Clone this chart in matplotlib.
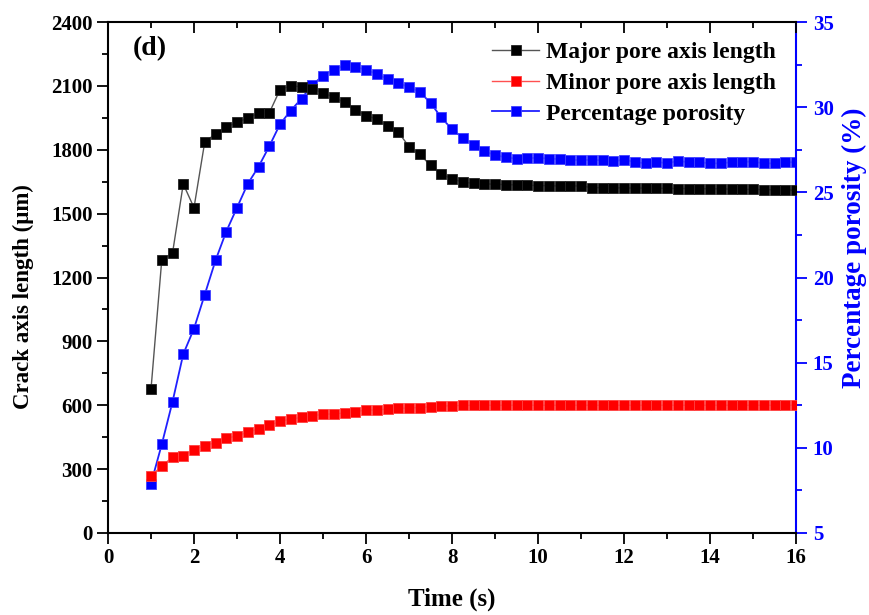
import numpy as np
import matplotlib
matplotlib.use("Agg")
import matplotlib.pyplot as plt
from matplotlib.ticker import MultipleLocator

plt.rcParams['font.family'] = ['Liberation Serif', 'DejaVu Serif']
plt.rcParams['font.weight'] = 'bold'

# time samples, every 0.25 s from 1 s to 16 s
time_s = np.arange(1.0, 16.001, 0.25)

major_axis = [675, 1282, 1314, 1639, 1528, 1837, 1874, 1905, 1930, 1948,
              1973, 1973, 2082, 2100, 2096, 2086, 2067, 2047, 2022, 1987,
              1960, 1945, 1910, 1883, 1815, 1778, 1727, 1686, 1663, 1648,
              1642, 1640, 1638, 1636, 1635, 1633, 1632, 1631, 1630, 1630,
              1630, 1622, 1622, 1621, 1621, 1620, 1620, 1619, 1619, 1618,
              1618, 1617, 1617, 1616, 1615, 1614, 1614, 1613, 1612, 1611,
              1610]

minor_axis = [268, 315, 356, 362, 391, 410, 425, 445, 456, 474,
              488, 506, 524, 535, 543, 551, 557, 560, 563, 570,
              577, 578, 582, 585, 588, 589, 593, 596, 598, 599,
              600, 600, 600, 600, 600, 600, 600, 600, 600, 600,
              600, 600, 600, 600, 600, 600, 600, 600, 600, 600,
              600, 600, 600, 600, 600, 600, 600, 600, 600, 600,
              600]

porosity = [7.9, 10.2, 12.7, 15.5, 17.0, 19.0, 21.0, 22.7, 24.1, 25.5,
            26.5, 27.7, 29.0, 29.8, 30.5, 31.3, 31.85, 32.2, 32.45, 32.35,
            32.2, 31.95, 31.65, 31.4, 31.2, 30.9, 30.25, 29.4, 28.7, 28.2,
            27.8, 27.4, 27.2, 27.05, 26.98, 27.0, 27.03, 26.98, 26.95, 26.9,
            26.9, 26.9, 26.88, 26.82, 26.92, 26.78, 26.7, 26.8, 26.7, 26.84,
            26.77, 26.77, 26.7, 26.7, 26.77, 26.8, 26.8, 26.7, 26.7, 26.77,
            26.77]

labels = ['Major pore axis length', 'Minor pore axis length', 'Percentage porosity']

fig = plt.figure(figsize=(8.69, 6.15), dpi=100)
ax = fig.add_axes([108 / 869, 82 / 615, 688 / 869, 511 / 615])
ax2 = ax.twinx()

ms = 7.4
l1, = ax.plot(time_s, major_axis, color='#555555', lw=1.0, marker='s', ms=ms,
              mfc='black', mec='#222222', mew=0.6, label=labels[0])
l2, = ax.plot(time_s, minor_axis, color='#ff5050', lw=1.0, marker='s', ms=ms,
              mfc='#ff0000', mec='#ff4040', mew=0.6, label=labels[1])
l3, = ax2.plot(time_s, porosity, color='#2020ff', lw=1.3, marker='s', ms=ms,
               mfc='#0000ff', mec='#4040ff', mew=0.6, label=labels[2])

ax.set_xlim(0, 16)
ax.set_ylim(0, 2400)
ax2.set_ylim(5, 35)

ax.xaxis.set_major_locator(MultipleLocator(2))
ax.xaxis.set_minor_locator(MultipleLocator(1))
ax.yaxis.set_major_locator(MultipleLocator(300))
ax.yaxis.set_minor_locator(MultipleLocator(150))
ax2.yaxis.set_major_locator(MultipleLocator(5))
ax2.yaxis.set_minor_locator(MultipleLocator(2.5))

tick_fs = 15
ax.tick_params(axis='both', which='major', direction='out', length=8, width=1.3,
               labelsize=tick_fs, pad=3)
ax.tick_params(axis='both', which='minor', direction='out', length=4.5, width=1.3)
ax.tick_params(axis='x', which='both', top=True)
ax.tick_params(axis='y', which='both', right=False)
ax2.tick_params(axis='y', which='major', direction='out', length=8, width=1.3,
                labelsize=tick_fs, colors='#0000ff', pad=4)
ax2.tick_params(axis='y', which='minor', direction='out', length=4.5, width=1.3,
                colors='#0000ff')

# top ticks point inward
for t in ax.xaxis.get_major_ticks() + ax.xaxis.get_minor_ticks():
    t.tick2line.set_marker(3)

for side in ['left', 'bottom', 'top']:
    ax.spines[side].set_linewidth(1.5)
ax.spines['right'].set_visible(False)
for side in ['left', 'bottom', 'top']:
    ax2.spines[side].set_visible(False)
ax2.spines['right'].set_color('#0000ff')
ax2.spines['right'].set_linewidth(1.5)

for lab in ax.get_xticklabels() + ax.get_yticklabels():
    lab.set_fontweight('bold')
for lab in ax2.get_yticklabels():
    lab.set_fontweight('bold')

ax.set_xlabel('Time (s)', fontsize=18, fontweight='bold', labelpad=14)
ax.set_ylabel('Crack axis length (\u03bcm)', fontsize=16.5, fontweight='bold')
ax2.set_ylabel('Percentage porosity (%)', fontsize=19.5, fontweight='bold',
               color='#0000ff')
ax.yaxis.label.set_va('center')
ax2.yaxis.label.set_va('center')
ax.yaxis.set_label_coords(-0.1235, 0.462)
ax2.yaxis.set_label_coords(1.085, 0.558)

ax.text(0.036, 0.972, '(d)', transform=ax.transAxes, fontsize=20,
        fontweight='bold', va='top', ha='left')

leg = ax.legend(handles=[l1, l2, l3], loc='upper right', bbox_to_anchor=(1.0, 1.0),
                frameon=False, fontsize=17, handlelength=2.0, handletextpad=0.3,
                labelspacing=0.39, borderaxespad=0.43)
for txt in leg.get_texts():
    txt.set_fontweight('bold')

ax2.set_zorder(ax.get_zorder() - 1)
ax.patch.set_visible(False)

fig.savefig('out.png', dpi=100)
